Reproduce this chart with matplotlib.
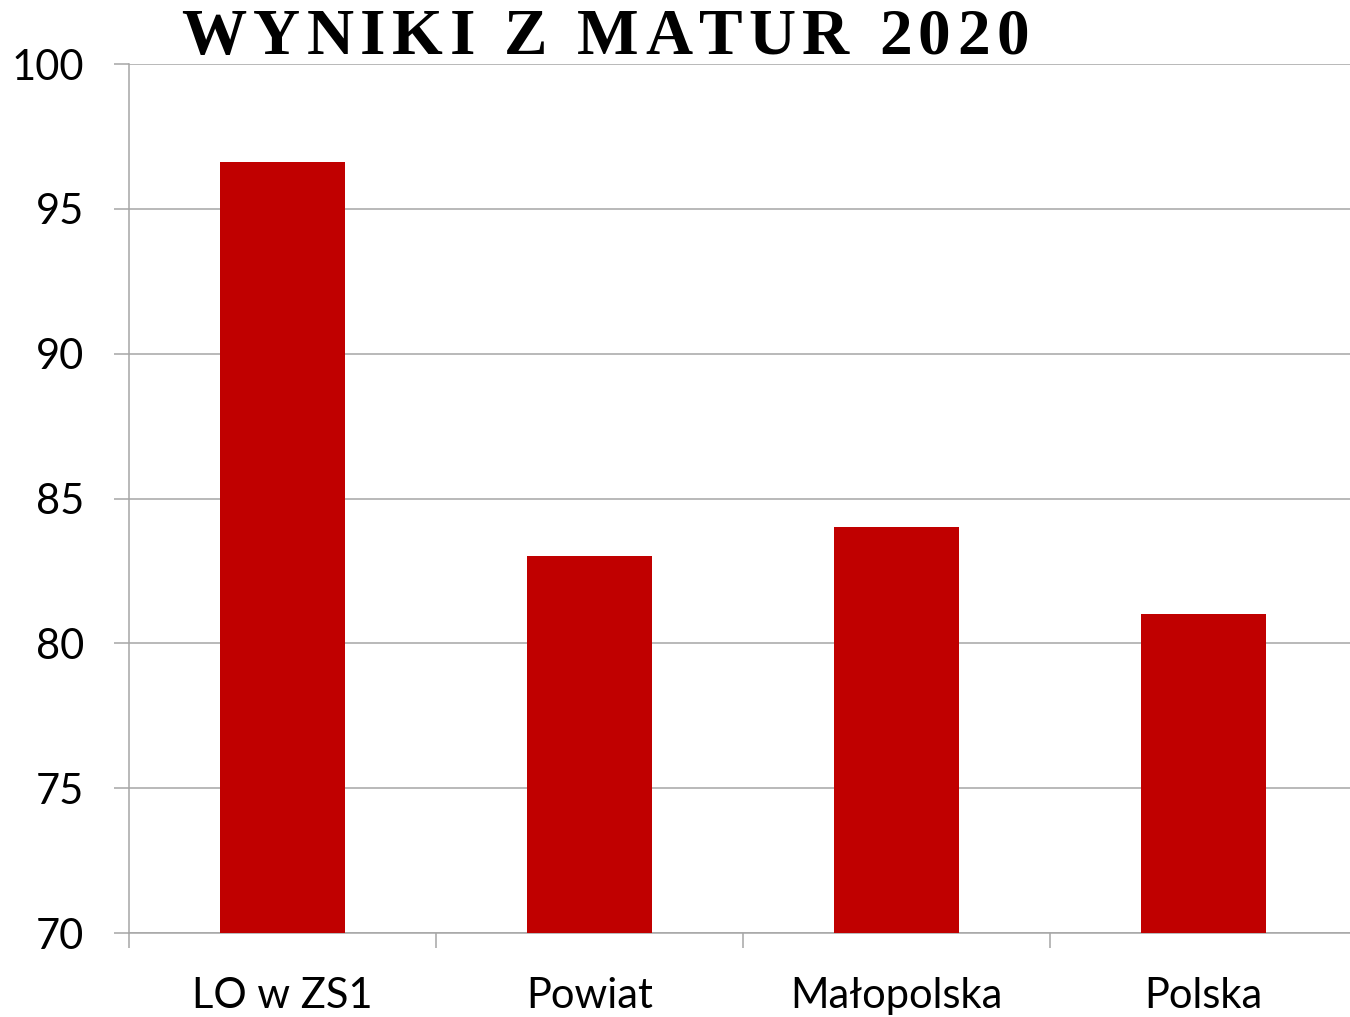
import matplotlib.pyplot as plt

categories = ["LO w ZS1", "Powiat", "Małopolska", "Polska"]
values = [96.6, 83.0, 84.0, 81.0]
y_ticks = [70, 75, 80, 85, 90, 95, 100]
title = "WYNIKI Z MATUR 2020"

BAR_COLOR = "#c00000"
GRID_COLOR = "#a6a6a6"
DPI = 100

fig = plt.figure(figsize=(13.5, 10.17), dpi=DPI)
# the plot area runs a little past the right edge of the picture
ax = fig.add_axes([129 / 1350, 1 - 933 / 1017, 1228 / 1350, (933 - 64) / 1017])

x = range(len(categories))
ax.bar(x, values, width=0.41, color=BAR_COLOR, zorder=3)

ax.set_ylim(70, 100)
ax.set_xlim(-0.5, len(categories) - 0.5)
ax.set_yticks(y_ticks)
ax.yaxis.grid(True, color=GRID_COLOR, linewidth=1.1, zorder=0)
ax.tick_params(axis="y", length=10.5, width=1.1, color=GRID_COLOR, pad=22,
               labelsize=30)

# category boundaries get the tick marks, names sit in between
ax.set_xticks([i - 0.5 for i in range(len(categories))])
ax.set_xticklabels([])
ax.tick_params(axis="x", which="major", length=10.5, width=1.1, color=GRID_COLOR)
ax.set_xticks(list(x), minor=True)
ax.set_xticklabels(categories, minor=True)
ax.tick_params(axis="x", which="minor", length=0, pad=32, labelsize=30)

for lbl in ax.get_xticklabels(minor=True) + ax.get_yticklabels():
    lbl.set_fontfamily("Lato")

for side in ["top", "right"]:
    ax.spines[side].set_visible(False)
for side in ["left", "bottom"]:
    ax.spines[side].set_color(GRID_COLOR)
    ax.spines[side].set_linewidth(1.1)

# letter-spaced title, one glyph at a time
renderer = fig.canvas.get_renderer()
pos = 181 / 1350
gap = 6.5 / 1350
for ch in title:
    t = fig.text(pos, 1 - 54 / 1017, ch, fontsize=47, fontweight="bold",
                 fontfamily="Liberation Serif", va="baseline", ha="left")
    w = t.get_window_extent(renderer).width / fig.bbox.width
    pos += w + gap

fig.savefig("out.png", dpi=DPI)
